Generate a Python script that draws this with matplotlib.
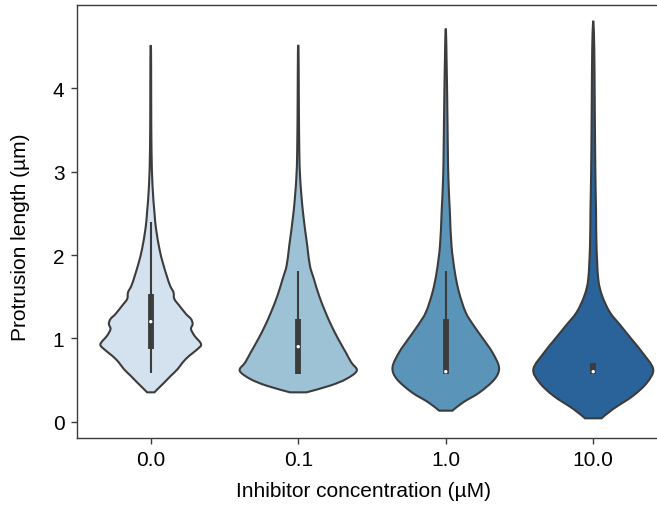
import matplotlib
matplotlib.use("Agg")
import matplotlib.pyplot as plt
from matplotlib.path import Path
from matplotlib.patches import PathPatch
import numpy as np
import seaborn as sns

plt.rcParams['font.family'] = ['Liberation Sans', 'DejaVu Sans']

categories = ["0.0", "0.1", "1.0", "10.0"]

# violin outlines: y levels (µm) and half-widths (category units)
v0_y = [0.352, 0.392, 0.472, 0.552, 0.632, 0.712, 0.792, 0.872, 0.932, 1.032, 1.112, 1.172, 1.232, 1.292, 1.392, 1.472, 1.552, 1.632, 1.752, 1.912, 2.072, 2.312, 2.512, 2.832, 3.272, 3.9, 4.451]
v0_w = [0.025, 0.047, 0.093, 0.137, 0.183, 0.217, 0.262, 0.318, 0.341, 0.296, 0.273, 0.284, 0.273, 0.239, 0.194, 0.160, 0.154, 0.131, 0.108, 0.081, 0.059, 0.036, 0.025, 0.012, 0.005, 0.003, 0.002]

v1_y = [0.352, 0.432, 0.512, 0.612, 0.712, 0.832, 0.992, 1.152, 1.312, 1.512, 1.712, 1.872, 2.112, 2.512, 2.909, 3.272, 3.87, 4.45]
v1_w = [0.056, 0.215, 0.325, 0.397, 0.359, 0.322, 0.271, 0.225, 0.185, 0.141, 0.106, 0.079, 0.061, 0.032, 0.0135, 0.007, 0.004, 0.002]

v2_y = [0.132, 0.232, 0.352, 0.512, 0.652, 0.832, 0.992, 1.152, 1.312, 1.552, 1.792, 2.112, 2.512, 2.909, 3.3, 3.87, 4.3, 4.67]
v2_w = [0.045, 0.118, 0.230, 0.332, 0.361, 0.316, 0.254, 0.190, 0.135, 0.090, 0.062, 0.039, 0.028, 0.018, 0.014, 0.010, 0.006, 0.002]

v3_y = [0.04, 0.152, 0.312, 0.472, 0.632, 0.832, 0.992, 1.152, 1.312, 1.512, 1.712, 2.112, 2.512, 2.909, 3.4, 3.87, 4.47, 4.77]
v3_w = [0.056, 0.135, 0.271, 0.366, 0.406, 0.332, 0.259, 0.186, 0.113, 0.060, 0.034, 0.022, 0.019, 0.015, 0.012, 0.010, 0.007, 0.002]

violin_y = [v0_y, v1_y, v2_y, v3_y]
violin_w = [v0_w, v1_w, v2_w, v3_w]

# inner box statistics
box_q1 = [0.87, 0.57, 0.57, 0.57]
box_q3 = [1.53, 1.23, 1.23, 0.71]
box_med = [1.20, 0.90, 0.60, 0.60]
whisk_lo = [0.59, 0.57, 0.57, 0.57]
whisk_hi = [2.40, 1.81, 1.81, 0.71]

colors = sns.color_palette("Blues", 4, desat=0.75)
gray = "#3c3c3c"


def smooth_outline(pts):
    """Catmull-Rom style Bezier path through the given outline points."""
    n = len(pts)
    verts = [pts[0]]
    codes = [Path.MOVETO]
    for k in range(n - 1):
        p0 = pts[max(k - 1, 0)]
        p1 = pts[k]
        p2 = pts[k + 1]
        p3 = pts[min(k + 2, n - 1)]
        verts += [p1 + (p2 - p0) / 6.0, p2 - (p3 - p1) / 6.0, p2]
        codes += [Path.CURVE4] * 3
    verts.append(pts[0])
    codes.append(Path.CLOSEPOLY)
    return Path(np.array(verts), codes)


fig = plt.figure(figsize=(6.57, 5.06), dpi=100)
ax = fig.add_axes([77 / 657, 1 - 438.5 / 506, 590 / 657, 432.5 / 506])

for i in range(len(categories)):
    y = np.asarray(violin_y[i], dtype=float)
    w = np.asarray(violin_w[i], dtype=float)
    left = np.column_stack([i - w, y])
    right = np.column_stack([i + w, y])[::-1]
    pts = np.vstack([left, right])
    patch = PathPatch(smooth_outline(pts), facecolor=colors[i], edgecolor=gray,
                      linewidth=1.5, zorder=1)
    ax.add_patch(patch)
    ax.plot([i, i], [whisk_lo[i], whisk_hi[i]], color=gray, linewidth=1.5,
            solid_capstyle="butt", zorder=2)
    ax.plot([i, i], [box_q1[i], box_q3[i]], color=gray, linewidth=4.2,
            solid_capstyle="butt", zorder=2)
    ax.scatter([i], [box_med[i]], s=6, color="white", edgecolor="none", zorder=3)

ax.set_xlim(-0.5, 3.5)
ax.set_ylim(-0.19, 5.0)
ax.set_xticks(range(len(categories)))
ax.set_xticklabels(categories)
ax.set_yticks([0, 1, 2, 3, 4])
ax.tick_params(labelsize=15, length=4, width=1, color=gray, pad=5)
for s in ax.spines.values():
    s.set_color(gray)
    s.set_linewidth(1.0)
ax.set_xlabel("Inhibitor concentration (µM)", fontsize=15)
ax.set_ylabel("Protrusion length (µm)", fontsize=15)
ax.xaxis.set_label_coords((363.5 - 77) / 590, -(492 - 438.5) / 432.5)
ax.xaxis.label.set_va("center")
ax.yaxis.set_label_coords((20 - 77) / 590, (438.5 - 237) / 432.5)
ax.yaxis.label.set_va("center")

fig.savefig("out.png", dpi=100)
